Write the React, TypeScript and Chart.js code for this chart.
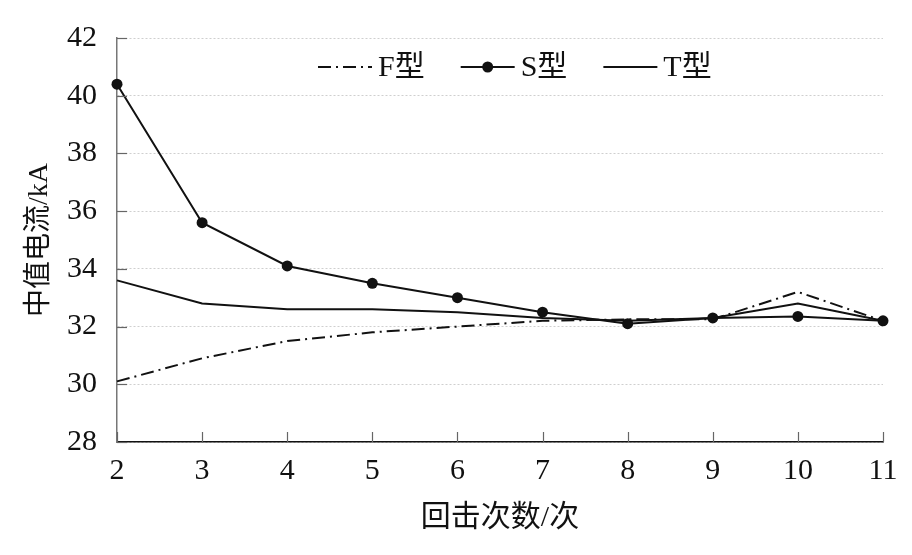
import React, { useEffect, useRef } from 'react';
import Chart from 'chart.js/auto';

// 回击次数
const strokes: number[] = [2, 3, 4, 5, 6, 7, 8, 9, 10, 11];
// 中值电流 (kA)
const fType: number[] = [30.1, 30.9, 31.5, 31.8, 32.0, 32.2, 32.25, 32.25, 33.2, 32.2];
const sType: number[] = [40.4, 35.6, 34.1, 33.5, 33.0, 32.5, 32.1, 32.3, 32.35, 32.2];
const tType: number[] = [33.6, 32.8, 32.6, 32.6, 32.5, 32.3, 32.2, 32.3, 32.8, 32.2];
const seriesNames: string[] = ['F型', 'S型', 'T型'];
const xTitle = '回击次数/次';
const yTitle = '中值电流/kA';

const FONT = '"Liberation Serif", "Times New Roman", "Noto Sans CJK SC", serif';

const toPoints = (ys: number[]) => strokes.map((x, i) => ({ x, y: ys[i] }));

// inward tick marks on both axes
const innerTicks = {
    id: 'innerTicks',
    afterDraw(chart: any) {
        const { ctx, chartArea, scales } = chart;
        ctx.save();
        ctx.lineWidth = 1.2;
        ctx.strokeStyle = '#666';
        scales.y.ticks.forEach((t: any) => {
            const y = Math.round(scales.y.getPixelForValue(t.value)) + 0.5;
            ctx.beginPath();
            ctx.moveTo(chartArea.left, y);
            ctx.lineTo(chartArea.left + 10, y);
            ctx.stroke();
        });
        scales.x.ticks.forEach((t: any) => {
            const x = Math.round(scales.x.getPixelForValue(t.value)) + 0.5;
            ctx.beginPath();
            ctx.moveTo(x, chartArea.bottom);
            ctx.lineTo(x, chartArea.bottom - 10);
            ctx.stroke();
        });
        ctx.restore();
    },
};

// legend drawn inside the plot, one row
const innerLegend = {
    id: 'innerLegend',
    afterDraw(chart: any) {
        const { ctx, chartArea } = chart;
        const y = chartArea.top + 29;
        let x = chartArea.left + 201;
        ctx.save();
        ctx.font = `30px ${FONT}`;
        ctx.textBaseline = 'middle';
        ctx.fillStyle = '#111';
        chart.data.datasets.forEach((ds: any) => {
            ctx.strokeStyle = '#111';
            ctx.lineWidth = 2;
            ctx.setLineDash(ds.borderDash || []);
            ctx.beginPath();
            ctx.moveTo(x, y);
            ctx.lineTo(x + 54, y);
            ctx.stroke();
            ctx.setLineDash([]);
            if (ds.pointRadius > 0) {
                ctx.beginPath();
                ctx.arc(x + 27, y, ds.pointRadius, 0, Math.PI * 2);
                ctx.fill();
            }
            x += 60;
            ctx.fillText(ds.label, x, y + 1);
            x += ctx.measureText(ds.label).width + 36;
        });
        ctx.restore();
    },
};

const App: React.FC = () => {
    const canvasRef = useRef<HTMLCanvasElement>(null);

    useEffect(() => {
        const ctx = canvasRef.current?.getContext('2d');
        if (!ctx) return;
        const chart = new Chart(ctx, {
            type: 'line',
            data: {
                datasets: [
                    {
                        label: seriesNames[0],
                        data: toPoints(fType),
                        borderColor: '#111',
                        borderWidth: 2,
                        borderDash: [13, 5, 2, 5],
                        pointRadius: 0,
                        tension: 0,
                        clip: false,
                    },
                    {
                        label: seriesNames[1],
                        data: toPoints(sType),
                        borderColor: '#111',
                        backgroundColor: '#111',
                        borderWidth: 2,
                        pointRadius: 5.5,
                        pointBackgroundColor: '#111',
                        pointBorderWidth: 0,
                        tension: 0,
                        clip: false,
                    },
                    {
                        label: seriesNames[2],
                        data: toPoints(tType),
                        borderColor: '#111',
                        borderWidth: 2,
                        pointRadius: 0,
                        tension: 0,
                        clip: false,
                    },
                ] as any,
            },
            options: {
                responsive: false,
                animation: false,
                devicePixelRatio: 1,
                layout: { padding: { top: 37, right: 29, left: 0, bottom: 0 } },
                plugins: { legend: { display: false }, tooltip: { enabled: false } },
                scales: {
                    x: {
                        type: 'linear',
                        min: 2,
                        max: 11,
                        ticks: {
                            stepSize: 1,
                            color: '#111',
                            padding: 11,
                            font: { family: FONT, size: 30 },
                        },
                        grid: { display: false, drawTicks: false },
                        border: { display: true, color: '#111', width: 1.5 },
                        title: {
                            display: true,
                            text: xTitle,
                            color: '#111',
                            font: { family: FONT, size: 30 },
                            padding: { top: 0, bottom: 19 },
                        },
                        afterFit: (scale: any) => {
                            scale.height = 113;
                        },
                    },
                    y: {
                        type: 'linear',
                        min: 28,
                        max: 42,
                        ticks: {
                            stepSize: 2,
                            color: '#111',
                            padding: 20,
                            font: { family: FONT, size: 30 },
                        },
                        grid: { color: '#cfcfcf', lineWidth: 1, drawTicks: false },
                        border: { display: true, color: '#777', width: 1.5, dash: [2, 2] },
                        title: {
                            display: true,
                            text: yTitle,
                            color: '#111',
                            font: { family: FONT, size: 28 },
                            padding: { top: 23, bottom: 0 },
                        },
                        afterFit: (scale: any) => {
                            scale.width = 117;
                        },
                    },
                },
            },
            plugins: [innerTicks, innerLegend],
        });
        return () => chart.destroy();
    }, []);

    return (
        <div style={{ position: 'absolute', left: 0, top: 0, width: 912, height: 555, background: '#fff' }}>
            <canvas ref={canvasRef} width={912} height={555} />
        </div>
    );
};

export default App;
